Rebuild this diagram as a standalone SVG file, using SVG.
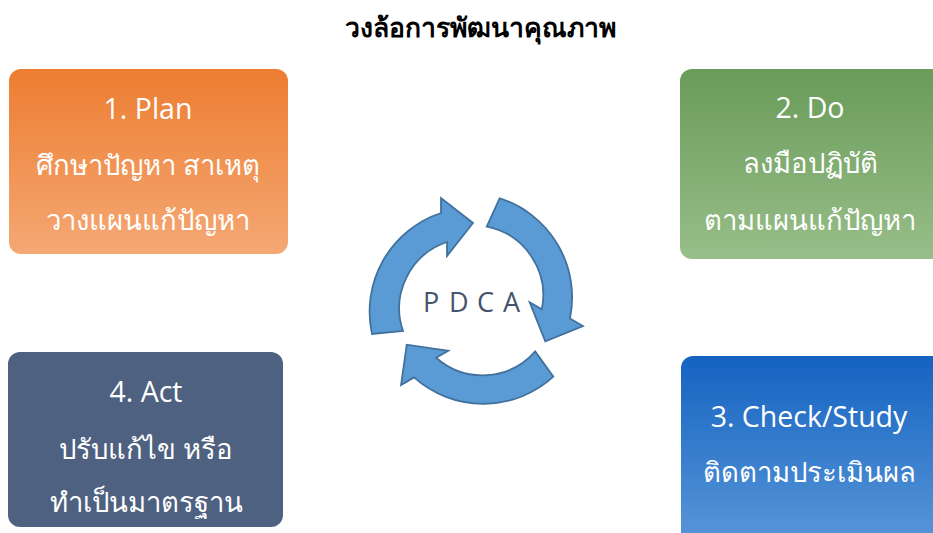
<svg xmlns="http://www.w3.org/2000/svg" width="933" height="533" viewBox="0 0 933 533">
<style>
.lbl{font-family:"Open Sans","Noto Sans",sans-serif;font-size:27.5px;font-weight:500;fill:#ffffff;text-anchor:middle}
.en{font-size:28.5px}
.title{font-family:"Noto Sans","Open Sans",sans-serif;font-size:26.5px;font-weight:bold;fill:#000;text-anchor:middle}
.arr{fill:#5B9BD5;stroke:#41719C;stroke-width:1.8;stroke-linejoin:miter}
.pdca{font-family:"Open Sans","Noto Sans",sans-serif;font-size:27px;fill:#44546A}
</style>
<defs>
<linearGradient id="gOrange" x1="0" y1="0" x2="0" y2="1"><stop offset="0" stop-color="#ED7D31"/><stop offset="1" stop-color="#F4A874"/></linearGradient>
<linearGradient id="gGreen" x1="0" y1="0" x2="0" y2="1"><stop offset="0" stop-color="#699B59"/><stop offset="1" stop-color="#98BE89"/></linearGradient>
<linearGradient id="gBlue" x1="0" y1="0" x2="0" y2="1"><stop offset="0" stop-color="#1463C1"/><stop offset="1" stop-color="#5A97D8"/></linearGradient>
<path id="arrow" d="M372,334 A104,104 0 0 1 441,213 L441,198 L473,223 L447,256 L447,242 A70,70 0 0 0 403,331 Z"/>
</defs>
<rect width="933" height="533" fill="#ffffff"/>
<text class="title" x="480" y="37">วงล้อการพัฒนาคุณภาพ</text>
<g id="plan">
<rect x="9" y="69" width="279" height="185" rx="12" fill="url(#gOrange)"/>
<text class="lbl en" x="148" y="119">1. Plan</text>
<text class="lbl" x="148" y="175">ศึกษาปัญหา สาเหตุ</text>
<text class="lbl" x="148" y="230">วางแผนแก้ปัญหา</text>
</g>
<g id="do">
<rect x="680" y="69" width="265" height="190" rx="12" fill="url(#gGreen)"/>
<text class="lbl en" x="810" y="118">2. Do</text>
<text class="lbl" x="810" y="173">ลงมือปฏิบัติ</text>
<text class="lbl" x="810" y="230">ตามแผนแก้ปัญหา</text>
</g>
<g id="check">
<rect x="681" y="356" width="265" height="190" rx="12" fill="url(#gBlue)"/>
<text class="lbl en" x="809" y="427">3. Check/Study</text>
<text class="lbl" x="809" y="482">ติดตามประเมินผล</text>
</g>
<g id="act">
<rect x="8" y="352" width="275" height="175" rx="12" fill="#4F6180"/>
<text class="lbl en" x="146" y="402">4. Act</text>
<text class="lbl" x="146" y="459">ปรับแก้ไข หรือ</text>
<text class="lbl" x="146" y="512">ทำเป็นมาตรฐาน</text>
</g>
<g id="connectors">
<use href="#arrow" class="arr"/>
<use href="#arrow" class="arr" transform="rotate(120 475 303)"/>
<use href="#arrow" class="arr" transform="rotate(240 475 303)"/>
</g>
<g id="center">
<text class="pdca" x="423 449 477 503" y="312">PDCA</text>
</g>
</svg>
